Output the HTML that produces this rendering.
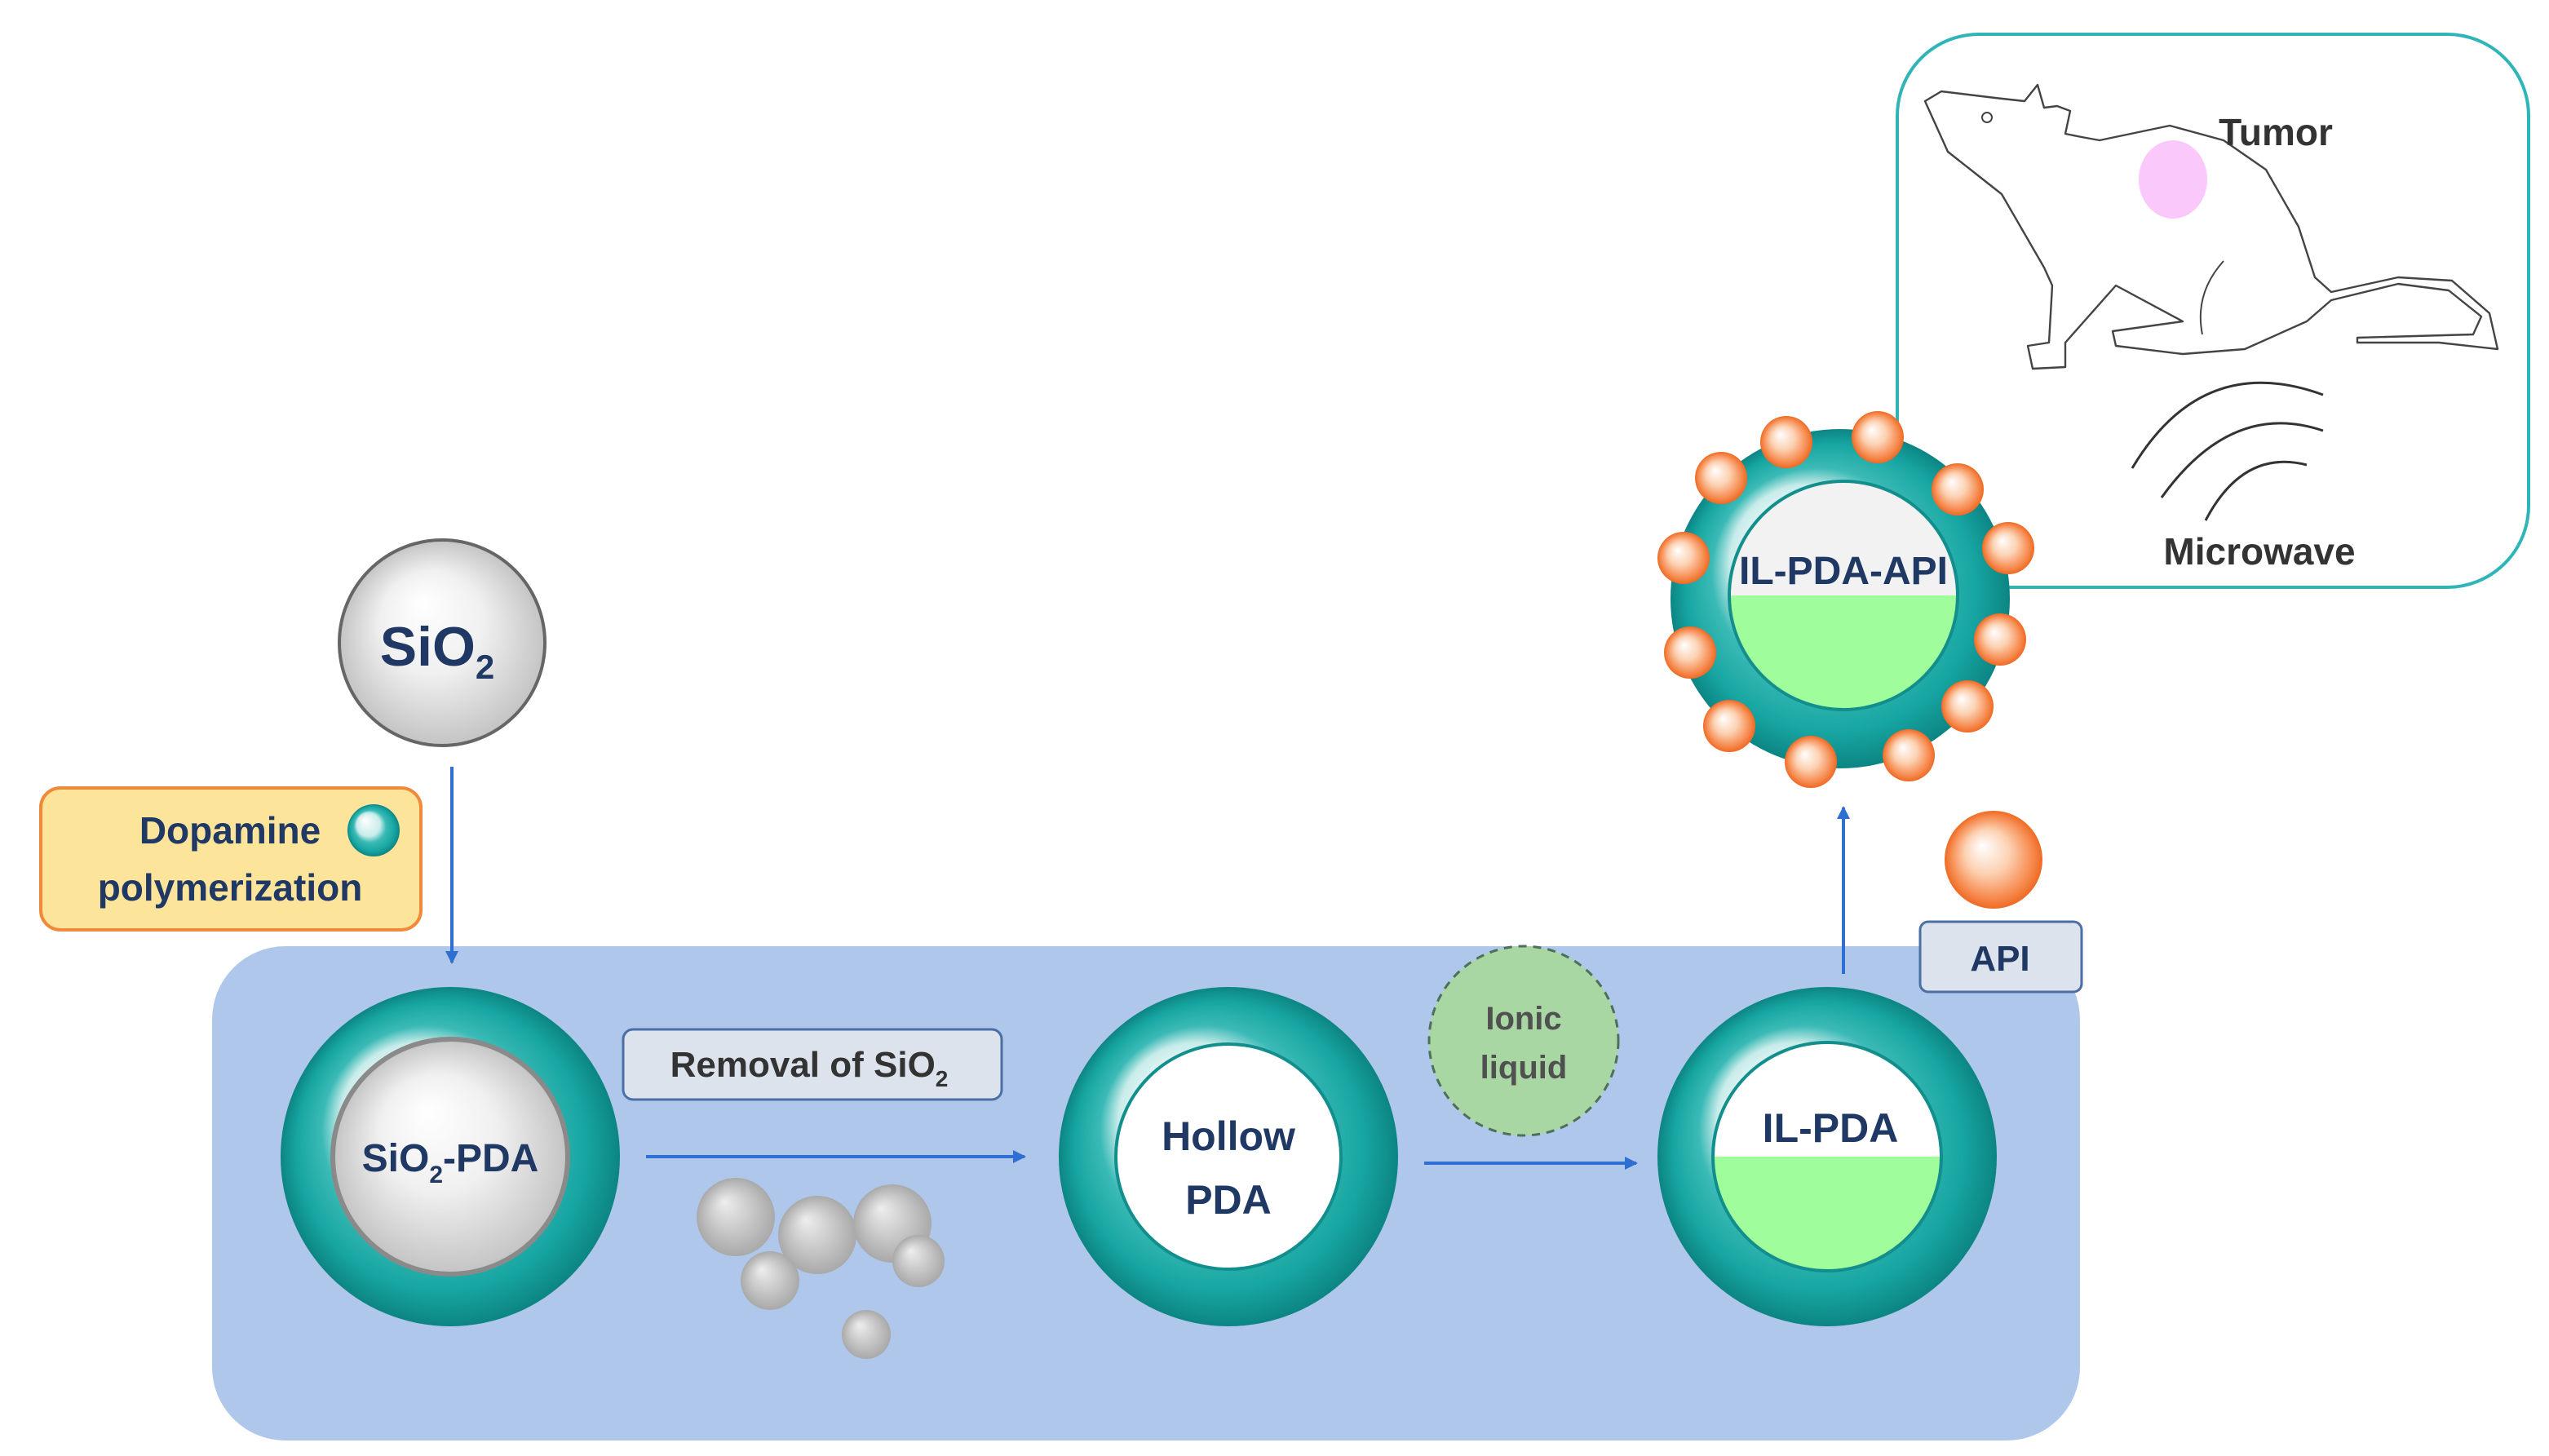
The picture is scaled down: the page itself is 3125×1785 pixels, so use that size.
<!DOCTYPE html>
<html><head><meta charset="utf-8"><style>
html,body{margin:0;padding:0;background:#fff;}
svg{display:block;}
text{font-family:"Liberation Sans",sans-serif;font-weight:bold;}
</style></head><body>
<svg width="3125" height="1785" viewBox="0 0 1562.5 892.5" xmlns="http://www.w3.org/2000/svg">
<defs>
<radialGradient id="teal" cx="0.5" cy="0.5" r="0.5" fx="0.32" fy="0.3">
<stop offset="0" stop-color="#ffffff"/><stop offset="0.45" stop-color="#c8ecea"/><stop offset="0.62" stop-color="#3bbab6"/><stop offset="0.85" stop-color="#17a6a2"/><stop offset="1" stop-color="#0c8584"/></radialGradient>
<radialGradient id="grey" cx="0.5" cy="0.5" r="0.5" fx="0.4" fy="0.3">
<stop offset="0" stop-color="#ffffff"/><stop offset="0.5" stop-color="#f0f0f0"/><stop offset="1" stop-color="#c4c4c4"/></radialGradient>
<radialGradient id="ball" cx="0.5" cy="0.5" r="0.5" fx="0.35" fy="0.3">
<stop offset="0" stop-color="#eeeeee"/><stop offset="1" stop-color="#a9a9a9"/></radialGradient>
<radialGradient id="orange" cx="0.5" cy="0.5" r="0.5" fx="0.38" fy="0.35">
<stop offset="0" stop-color="#ffffff"/><stop offset="0.45" stop-color="#fcd2b4"/><stop offset="0.85" stop-color="#f6874a"/><stop offset="1" stop-color="#ee6a25"/></radialGradient>
<marker id="ar" markerWidth="8" markerHeight="8" refX="7" refY="4" orient="auto" markerUnits="userSpaceOnUse"><path d="M0,0 L8,4 L0,8 z" fill="#2e6fd1"/></marker>
<clipPath id="c1"><circle cx="1120" cy="709" r="70"/></clipPath>
<clipPath id="c2"><circle cx="1130" cy="365" r="70"/></clipPath>
</defs>

<rect x="1163" y="21" width="387" height="339" rx="50" fill="#fff" stroke="#2fb5b8" stroke-width="2"/>
<path d="M1180 62 L1190 56 L1223 60 L1241 62 L1249 52 L1253 66 L1261 65 L1269 68 L1266 82 L1276 84 L1287 86 L1330 77 L1363 86 L1389 104 L1409 139 L1419 170 L1429 179 L1470 170 L1503 172 L1526 192 L1531 214 L1495 210 L1445 210 L1445 207 L1516 205 L1521 194 L1501 178 L1470 174 L1429 184 L1414 197 L1376 214 L1338 217 L1297 212 L1295 203 L1338 197 L1297 175 L1266 210 L1266 225 L1246 226 L1243 212 L1256 210 L1258 175 L1253 164 L1227 119 L1194 93 Z" fill="none" stroke="#444" stroke-width="1.2" stroke-linejoin="round"/>
<path d="M1363 160 Q1345 180 1350 205" fill="none" stroke="#444" stroke-width="1"/>
<circle cx="1218" cy="72" r="3" fill="none" stroke="#444" stroke-width="1"/>
<ellipse cx="1332" cy="110" rx="21" ry="24" fill="#fbc8fb"/>
<text x="1395" y="89" font-size="23" fill="#333" text-anchor="middle">Tumor</text>
<path d="M1307 287 Q1350 215 1424 242" fill="none" stroke="#333" stroke-width="1.5"/>
<path d="M1325 305 Q1368 245 1424 264" fill="none" stroke="#333" stroke-width="1.5"/>
<path d="M1352 319 Q1375 275 1414 285" fill="none" stroke="#333" stroke-width="1.5"/>
<text x="1385" y="346" font-size="23" fill="#333" text-anchor="middle">Microwave</text>

<rect x="130" y="580" width="1145" height="303" rx="45" fill="#afc7ea"/>

<circle cx="271" cy="394" r="63" fill="url(#grey)" stroke="#666" stroke-width="2"/>
<text x="268" y="408" font-size="34" fill="#1f3864" text-anchor="middle">SiO<tspan font-size="21" dy="8">2</tspan></text>
<line x1="277" y1="470" x2="277" y2="590" stroke="#2e6fd1" stroke-width="2" marker-end="url(#ar)"/>

<rect x="25" y="483" width="233" height="87" rx="12" fill="#fde49b" stroke="#ef8a3b" stroke-width="2"/>
<text x="141" y="517" font-size="23" fill="#1f3864" text-anchor="middle">Dopamine</text>
<text x="141" y="552" font-size="23" fill="#1f3864" text-anchor="middle">polymerization</text>
<circle cx="229" cy="509" r="16" fill="url(#teal)"/>

<circle cx="276" cy="709" r="104" fill="url(#teal)"/>
<circle cx="276" cy="709" r="72" fill="url(#grey)" stroke="#8a8a8a" stroke-width="3"/>
<text x="276" y="718" font-size="24" fill="#1f3864" text-anchor="middle">SiO<tspan font-size="15" dy="7">2</tspan><tspan dy="-7">-PDA</tspan></text>

<rect x="382" y="631" width="232" height="43" rx="6" fill="#dde3ec" stroke="#4a6fa5" stroke-width="1.5"/>
<text x="496" y="660" font-size="22" fill="#333" text-anchor="middle">Removal of SiO<tspan font-size="14" dy="6">2</tspan></text>
<line x1="396" y1="709" x2="628" y2="709" stroke="#2e6fd1" stroke-width="2" marker-end="url(#ar)"/>
<circle cx="451" cy="746" r="24" fill="url(#ball)"/>
<circle cx="501" cy="757" r="24" fill="url(#ball)"/>
<circle cx="547" cy="750" r="24" fill="url(#ball)"/>
<circle cx="472" cy="785" r="18" fill="url(#ball)"/>
<circle cx="563" cy="773" r="16" fill="url(#ball)"/>
<circle cx="531" cy="818" r="15" fill="url(#ball)"/>

<circle cx="753" cy="709" r="104" fill="url(#teal)"/>
<circle cx="753" cy="709" r="69" fill="#fff" stroke="#128f8c" stroke-width="2"/>
<text x="753" y="705" font-size="25" fill="#1f3864" text-anchor="middle">Hollow</text>
<text x="753" y="744" font-size="25" fill="#1f3864" text-anchor="middle">PDA</text>

<circle cx="934" cy="638" r="58" fill="#a9d7a4" stroke="#4f6f5a" stroke-width="1.5" stroke-dasharray="5,4"/>
<text x="934" y="631" font-size="20" fill="#505050" text-anchor="middle">Ionic</text>
<text x="934" y="661" font-size="20" fill="#505050" text-anchor="middle">liquid</text>
<line x1="873" y1="713" x2="1003" y2="713" stroke="#2e6fd1" stroke-width="2" marker-end="url(#ar)"/>

<circle cx="1120" cy="709" r="104" fill="url(#teal)"/>
<circle cx="1120" cy="709" r="70" fill="#fff"/>
<rect x="1040" y="709" width="160" height="80" fill="#a0fd9c" clip-path="url(#c1)"/>
<circle cx="1120" cy="709" r="70" fill="none" stroke="#128f8c" stroke-width="2"/>
<text x="1122" y="700" font-size="25" fill="#1f3864" text-anchor="middle">IL-PDA</text>

<line x1="1130" y1="597" x2="1130" y2="495" stroke="#2e6fd1" stroke-width="2" marker-end="url(#ar)"/>
<circle cx="1222" cy="527" r="30" fill="url(#orange)"/>
<rect x="1177" y="565" width="99" height="43" rx="5" fill="#dde3ec" stroke="#4a6fa5" stroke-width="1.5"/>
<text x="1226" y="595" font-size="22" fill="#1f3864" text-anchor="middle">API</text>

<circle cx="1128" cy="367" r="104" fill="url(#teal)"/>
<circle cx="1130" cy="365" r="70" fill="#f2f2f2"/>
<rect x="1050" y="365" width="160" height="80" fill="#a0fd9c" clip-path="url(#c2)"/>
<circle cx="1130" cy="365" r="70" fill="none" stroke="#128f8c" stroke-width="2"/>
<text x="1130" y="358" font-size="24" fill="#1f3864" text-anchor="middle">IL-PDA-API</text>
<g>
<circle cx="1095" cy="271" r="16" fill="url(#orange)"/>
<circle cx="1151" cy="268" r="16" fill="url(#orange)"/>
<circle cx="1200" cy="300" r="16" fill="url(#orange)"/>
<circle cx="1231" cy="336" r="16" fill="url(#orange)"/>
<circle cx="1226" cy="392" r="16" fill="url(#orange)"/>
<circle cx="1206" cy="433" r="16" fill="url(#orange)"/>
<circle cx="1170" cy="463" r="16" fill="url(#orange)"/>
<circle cx="1110" cy="467" r="16" fill="url(#orange)"/>
<circle cx="1060" cy="445" r="16" fill="url(#orange)"/>
<circle cx="1036" cy="400" r="16" fill="url(#orange)"/>
<circle cx="1032" cy="342" r="16" fill="url(#orange)"/>
<circle cx="1055" cy="293" r="16" fill="url(#orange)"/>
</g>
</svg>
</body></html>
